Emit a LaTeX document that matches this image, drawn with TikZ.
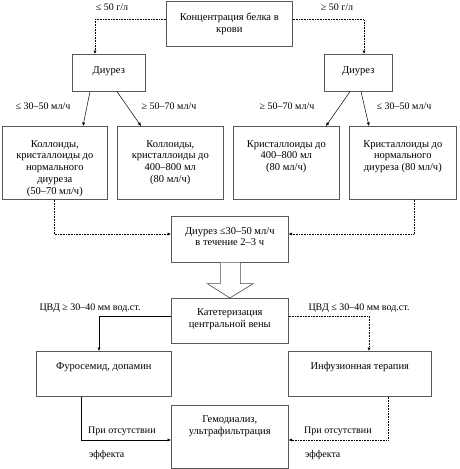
\documentclass[tikz,border=0pt]{standalone}
\usepackage{fontspec}
\setmainfont{Liberation Serif}
\usetikzlibrary{arrows.meta,calc}
\begin{document}
\begin{tikzpicture}[x=1pt,y=-1pt,
 box/.style={draw=black!65, line width=0.6pt, inner sep=0pt, anchor=north west},
 txt/.style={font=\fontsize{10.5}{11.8}\selectfont, align=center, inner sep=0pt, anchor=north},
 lbl/.style={font=\fontsize{10}{12}\selectfont, inner sep=0pt, anchor=base},
 tip/.style={-{Latex[length=3.5pt,width=3.2pt]}},
 conn/.style={line width=0.6pt, densely dotted, tip},
 sconn/.style={line width=0.5pt, tip},
]
\useasboundingbox (0,0) rectangle (460,469);
% boxes
\node[box, minimum width=126pt, minimum height=45pt] (b0) at (166,0.5) {};
\node[box, minimum width=73pt, minimum height=37pt] (b1) at (72,54) {};
\node[box, minimum width=68pt, minimum height=37pt] (b2) at (324,54) {};
\node[box, minimum width=105pt, minimum height=73pt] (b3) at (2,126) {};
\node[box, minimum width=106pt, minimum height=73pt] (b4) at (117,126) {};
\node[box, minimum width=106pt, minimum height=73pt] (b5) at (233,126) {};
\node[box, minimum width=107pt, minimum height=73pt] (b6) at (349,126) {};
\node[box, minimum width=117pt, minimum height=46pt] (b7) at (171,216) {};
\node[box, minimum width=117pt, minimum height=45pt] (b8) at (171,298) {};
\node[box, minimum width=135pt, minimum height=45pt] (b9) at (36,351) {};
\node[box, minimum width=143pt, minimum height=45pt] (b10) at (288,351) {};
\node[box, minimum width=117pt, minimum height=63pt] (b11) at (171,405) {};
% box texts
\node[txt] (t0) at ($(b0.north)+(0,12)$) {Концентрация белка в\\крови};
\node[txt] (t1) at ($(b1.north)+(0,12.5)$) {Диурез};
\node[txt] (t2) at ($(b2.north)+(0,12.5)$) {Диурез};
\node[txt] (t3) at ($(b3.north)+(0,14)$) {Коллоиды,\\кристаллоиды до\\нормального\\диуреза\\(50–70 мл/ч)};
\node[txt] (t4) at ($(b4.north)+(0,14)$) {Коллоиды,\\кристаллоиды до\\400–800 мл\\(80 мл/ч)};
\node[txt] (t5) at ($(b5.north)+(0,14)$) {Кристаллоиды до\\400–800 мл\\(80 мл/ч)};
\node[txt] (t6) at ($(b6.north)+(0,14)$) {Кристаллоиды до\\нормального\\диуреза (80 мл/ч)};
\node[txt] (t7) at ($(b7.north)+(0,11)$) {Диурез ≤30–50 мл/ч\\в течение 2–3 ч};
\node[txt] (t8) at ($(b8.north)+(0,10.5)$) {Катетеризация\\центральной вены};
\node[txt] (t9) at ($(b9.north)+(0,11)$) {Фуросемид, допамин};
\node[txt] (t10) at ($(b10.north)+(0,11)$) {Инфузионная терапия};
\node[txt] (t11) at ($(b11.north)+(0,10.5)$) {Гемодиализ,\\ультрафильтрация};
% connector labels
\node[lbl] (l1) at (112,10) {≤ 50 г/л};
\node[lbl] (l2) at (337,10) {≥ 50 г/л};
\node[lbl] (l3) at (43,109) {≤ 30–50 мл/ч};
\node[lbl] (l4) at (169,109) {≥ 50–70 мл/ч};
\node[lbl] (l5) at (287,109) {≥ 50–70 мл/ч};
\node[lbl] (l6) at (404,109) {≤ 30–50 мл/ч};
\node[lbl] (l7) at (90,310) {ЦВД ≥ 30–40 мм вод.ст.};
\node[lbl] (l8) at (359,310) {ЦВД ≤ 30–40 мм вод.ст.};
\node[lbl, anchor=base west] (l9) at (88,433) {При отсутствии};
\node[lbl, anchor=base west] (l10) at (89,457) {эффекта};
\node[lbl, anchor=base west] (l11) at (304,433) {При отсутствии};
\node[lbl, anchor=base west] (l12) at (305,457) {эффекта};
% connectors
\draw[conn] ($(b0.north west)+(0,19)$) -| ($(b1.north west)+(23,0)$);
\draw[conn] ($(b0.north east)+(0,19)$) -| ($(b2.north west)+(40,0)$);
\draw[sconn] ($(b1.south west)+(18,0)$) -- ($(b3.north west)+(81,0)$);
\draw[sconn] ($(b1.south west)+(45,0)$) -- ($(b4.north west)+(24,0)$);
\draw[sconn] ($(b2.south west)+(26,0)$) -- ($(b5.north west)+(93,0)$);
\draw[sconn] ($(b2.south west)+(37,0)$) -- ($(b6.north west)+(20,0)$);
\draw[conn] ($(b3.south west)+(52,0)$) |- ($(b7.north west)+(0,18)$);
\draw[conn] ($(b6.south west)+(65,0)$) |- ($(b7.north east)+(0,18)$);
\draw[sconn] ($(b8.north west)+(0,18)$) -| ($(b9.north west)+(63,0)$);
\draw[conn] ($(b8.north east)+(0,18)$) -| ($(b10.north west)+(81,0)$);
\draw[sconn] ($(b9.south west)+(45,0)$) |- ($(b11.north west)+(0,35)$);
\draw[conn] ($(b10.south west)+(100,0)$) |- ($(b11.north east)+(0,35)$);
% hollow block arrow
\draw[black!70, line width=0.6pt, fill=white]
  ($(b7.south)+(-9.5,0)$) -- ($(b7.south)+(-9.5,21)$) -- ($(b7.south)+(-22.5,21)$)
  -- (b8.north) -- ($(b7.south)+(23.5,21)$) -- ($(b7.south)+(10.5,21)$) -- ($(b7.south)+(10.5,0)$);
\end{tikzpicture}
\end{document}
